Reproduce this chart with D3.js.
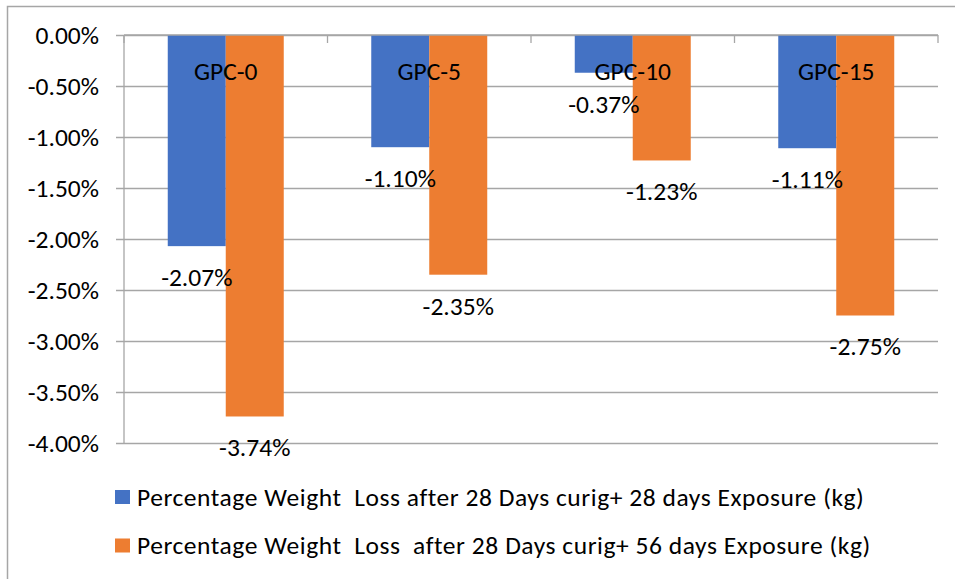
<!DOCTYPE html>
<html>
<head>
<meta charset="utf-8">
<script src="https://cdn.jsdelivr.net/npm/d3@7"></script>
<style>
  html, body { margin: 0; padding: 0; background: #fff; }
  svg { display: block; font-family: Carlito, Lato, "Liberation Sans", sans-serif; }
</style>
</head>
<body>
<svg id="chart" width="955" height="579"></svg>
<script>
// Groups and their two exposure series (percentage weight change, %)
const categories = ["GPC-0", "GPC-5", "GPC-10", "GPC-15"];
const loss28 = [-2.07, -1.10, -0.37, -1.11];
const loss56 = [-3.74, -2.35, -1.23, -2.75];
const seriesNames = [
  "Percentage Weight  Loss after 28 Days curig+ 28 days Exposure (kg)",
  "Percentage Weight  Loss  after 28 Days curig+ 56 days Exposure (kg)"
];
const seriesColors = ["#4472C4", "#ED7D31"];
const yTicks = [0, -0.5, -1, -1.5, -2, -2.5, -3, -3.5, -4];

const FS = 25.5;
const pct = v => d3.format(".2f")(v).replace("\u2212", "-") + "%";

const svg = d3.select("#chart");
const W = 955, H = 579;

// Chart frame (only top and left edges fall inside the view)
svg.append("rect").attr("x", 7.5).attr("y", 6.5).attr("width", W).attr("height", H)
  .attr("fill", "#fff").attr("stroke", "#a6a6a6").attr("stroke-width", 1.5);

const plot = { left: 124, right: 938, top: 35, bottom: 443 };

const y = d3.scaleLinear().domain([0, -4]).range([plot.top, plot.bottom]);
const x0 = d3.scaleBand().domain(categories).range([plot.left, plot.right])
  .paddingInner(0.43).paddingOuter(0.215);
const x1 = d3.scaleBand().domain([0, 1]).range([0, x0.bandwidth()]);

// Horizontal gridlines with small outward ticks
const grid = svg.append("g").attr("transform", `translate(${plot.left},0)`)
  .call(d3.axisLeft(y).tickValues(yTicks)
    .tickSize(-(plot.right - plot.left)).tickFormat(""));
grid.select(".domain").remove();
grid.selectAll(".tick line").attr("stroke", "#a6a6a6").attr("stroke-width", 1.3)
  .attr("x1", -8);

// Y tick labels
svg.append("g").selectAll("text").data(yTicks).join("text")
  .attr("x", 99).attr("y", d => y(d)).attr("dy", "0.35em")
  .attr("text-anchor", "end").attr("font-size", FS).attr("fill", "#000")
  .text(pct);

// Bars
const groups = svg.append("g").selectAll("g").data(categories).join("g")
  .attr("transform", d => `translate(${x0(d)},0)`);

const series = [loss28, loss56];
groups.selectAll("rect").data((d, i) => series.map((s, k) => ({ k, v: s[i] })))
  .join("rect")
  .attr("x", d => x1(d.k))
  .attr("y", y(0))
  .attr("width", x1.bandwidth())
  .attr("height", d => y(d.v) - y(0))
  .attr("fill", d => seriesColors[d.k]);

// Vertical axis line and category ticks along the zero line
svg.append("line").attr("x1", plot.left).attr("x2", plot.left)
  .attr("y1", plot.top).attr("y2", plot.bottom)
  .attr("stroke", "#a6a6a6").attr("stroke-width", 1.3);
const catTicks = d3.range(categories.length + 1).map(i => plot.left + i * (plot.right - plot.left) / categories.length);
svg.append("g").selectAll("line").data(catTicks).join("line")
  .attr("x1", d => d).attr("x2", d => d)
  .attr("y1", plot.top).attr("y2", plot.top + 8)
  .attr("stroke", "#a6a6a6").attr("stroke-width", 1.3);
svg.append("line").attr("x1", plot.left).attr("x2", plot.right)
  .attr("y1", plot.top).attr("y2", plot.top)
  .attr("stroke", "#a6a6a6").attr("stroke-width", 1.3);

// Category labels just below the zero line
svg.append("g").selectAll("text").data(categories).join("text")
  .attr("x", d => x0(d) + x0.bandwidth() / 2).attr("y", 71).attr("dy", "0.35em")
  .attr("text-anchor", "middle").attr("font-size", FS).attr("fill", "#000")
  .text(d => d);

// Value labels below each bar end
groups.selectAll("text.val").data((d, i) => series.map((s, k) => ({ k, v: s[i] })))
  .join("text").attr("class", "val")
  .attr("x", d => x1(d.k) + x1.bandwidth() / 2)
  .attr("y", d => y(d.v) + 31).attr("dy", "0.35em")
  .attr("text-anchor", "middle").attr("font-size", FS).attr("fill", "#000")
  .text(d => pct(d.v));

// Legend
const legend = svg.append("g").selectAll("g").data(seriesNames).join("g")
  .attr("transform", (d, i) => `translate(115,${497 + i * 48.5})`);
legend.append("rect").attr("x", 0).attr("y", -7).attr("width", 15).attr("height", 14)
  .attr("fill", (d, i) => seriesColors[i]);
legend.append("text").attr("x", 22).attr("y", 0).attr("dy", "0.35em")
  .attr("font-size", FS).attr("fill", "#000").style("white-space", "pre")
  .style("letter-spacing", "0.55px")
  .attr("xml:space", "preserve")
  .text(d => d);
</script>
</body>
</html>
